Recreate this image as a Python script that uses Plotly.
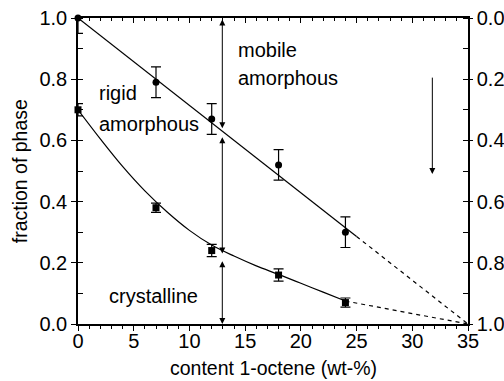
import plotly.graph_objects as go

# data
upper_x = [0, 7, 12, 18, 24]
upper_y = [1.0, 0.79, 0.67, 0.52, 0.30]
upper_err = [0.05, 0.05, 0.05, 0.05, 0.05]

lower_x = [0, 7, 12, 18, 24]
lower_y = [0.70, 0.38, 0.24, 0.16, 0.07]
lower_err = [0.02, 0.015, 0.02, 0.02, 0.015]

upper_line_x = [0, 25]
upper_line_y = [1.0, 0.286]
upper_dash_x = [25, 35]
upper_dash_y = [0.286, 0.0]

lower_curve_x = [0, 2, 4, 6, 8, 10, 12, 14, 16, 18, 20, 22, 24]
lower_curve_y = [0.70, 0.605, 0.515, 0.435, 0.366, 0.306, 0.258, 0.222, 0.19, 0.162, 0.133, 0.104, 0.075]
lower_dash_x = [24, 35]
lower_dash_y = [0.075, 0.0]

FONT = "Liberation Sans, Arial, sans-serif"
fig = go.Figure()

line = dict(color="black", width=1.2)
fig.add_trace(go.Scatter(x=upper_line_x, y=upper_line_y, mode="lines", line=line, showlegend=False))
fig.add_trace(go.Scatter(x=upper_dash_x, y=upper_dash_y, mode="lines", line=dict(color="black", width=1.2, dash="4px,4px"), showlegend=False))
fig.add_trace(go.Scatter(x=lower_curve_x, y=lower_curve_y, mode="lines", line=dict(color="black", width=1.2, shape="spline", smoothing=1.0), showlegend=False))
fig.add_trace(go.Scatter(x=lower_dash_x, y=lower_dash_y, mode="lines", line=dict(color="black", width=1.2, dash="4px,4px"), showlegend=False))

# error bars (clipped)
for xs, ys, es in [(upper_x, upper_y, upper_err), (lower_x, lower_y, lower_err)]:
    fig.add_trace(go.Scatter(x=xs, y=ys, mode="markers", marker=dict(size=1, opacity=0),
                             error_y=dict(type="data", array=es, color="black", thickness=1.2, width=5),
                             showlegend=False, cliponaxis=True))

fig.add_trace(go.Scatter(x=upper_x, y=upper_y, mode="markers", marker=dict(symbol="circle", size=7, color="black"),
                         showlegend=False, cliponaxis=False))
fig.add_trace(go.Scatter(x=lower_x, y=lower_y, mode="markers", marker=dict(symbol="square", size=7, color="black"),
                         showlegend=False, cliponaxis=False))

# invisible traces for secondary axes
fig.add_trace(go.Scatter(x=[0], y=[0], xaxis="x2", yaxis="y", mode="markers", marker=dict(opacity=0), showlegend=False, hoverinfo="skip"))
fig.add_trace(go.Scatter(x=[0], y=[0], xaxis="x", yaxis="y2", mode="markers", marker=dict(opacity=0), showlegend=False, hoverinfo="skip"))

# arrows
arrow = dict(xref="x", yref="y", axref="x", ayref="y", showarrow=True, arrowcolor="black",
             arrowwidth=1, arrowhead=2, arrowsize=1.2, text="", startarrowhead=2, startarrowsize=1.2)
for y0, y1 in [(1.0, 0.64), (0.615, 0.23), (0.21, 0.0)]:
    fig.add_annotation(x=12.95, y=y1, ax=12.95, ay=y0, arrowside="end+start", **arrow)
fig.add_annotation(x=31.8, y=0.49, ax=31.8, ay=0.81, xref="x", yref="y", axref="x", ayref="y",
                   showarrow=True, arrowcolor="black", arrowwidth=1, arrowhead=2, arrowsize=1.2, text="")

tfont = dict(family=FONT, size=20, color="black")
for txt, x, y in [("mobile", 14.2, 0.895), ("amorphous", 14.2, 0.805), ("rigid", 1.7, 0.755),
                  ("amorphous", 1.7, 0.655), ("crystalline", 2.6, 0.09)]:
    fig.add_annotation(x=x, y=y, text=txt, showarrow=False, xanchor="left", yanchor="middle", font=tfont)

# axis titles
titlefont = dict(family=FONT, size=19.5, color="black")
fig.add_annotation(text="content 1-octene (wt-%)", xref="paper", yref="paper", x=0.5, y=-0.143,
                   xanchor="center", yanchor="middle", showarrow=False, font=titlefont)
fig.add_annotation(text="fraction of phase", xref="paper", yref="paper", x=-0.148, y=0.5, textangle=-90,
                   xanchor="center", yanchor="middle", showarrow=False, font=titlefont)

axis_common = dict(showline=True, linecolor="black", linewidth=1.5, showgrid=False, zeroline=False,
                   automargin=False,
                   tickcolor="black", tickwidth=1.2, tickfont=dict(family=FONT, size=20, color="black"))

fig.update_layout(
    width=504, height=381, margin=dict(l=78, r=36, t=18, b=57),
    paper_bgcolor="white", plot_bgcolor="white",
    xaxis=dict(range=[0, 35], dtick=5, ticks="outside", ticklen=5, ticklabelstandoff=-7,
               minor=dict(dtick=1, ticks="outside", ticklen=3, tickcolor="black", tickwidth=1.2),
               **axis_common),
    xaxis2=dict(range=[0, 35], overlaying="x", side="top", dtick=5, ticks="inside", ticklen=5,
                showticklabels=False,
                minor=dict(dtick=1, ticks="inside", ticklen=3, tickcolor="black", tickwidth=1.2),
                **axis_common),
    yaxis=dict(range=[0, 1], dtick=0.2, tickformat=".1f", ticks="outside", ticklen=5,
               minor=dict(dtick=0.1, ticks="inside", ticklen=5, tickcolor="black", tickwidth=1.2),
               **axis_common),
    yaxis2=dict(range=[1, 0], overlaying="y", side="right", dtick=0.2, tickformat=".1f", ticks="outside", ticklen=3,
                ticklabelstandoff=0,
                minor=dict(dtick=0.1, ticks="inside", ticklen=5, tickcolor="black", tickwidth=1.2),
                **axis_common),
)

fig.write_html("out.html")
